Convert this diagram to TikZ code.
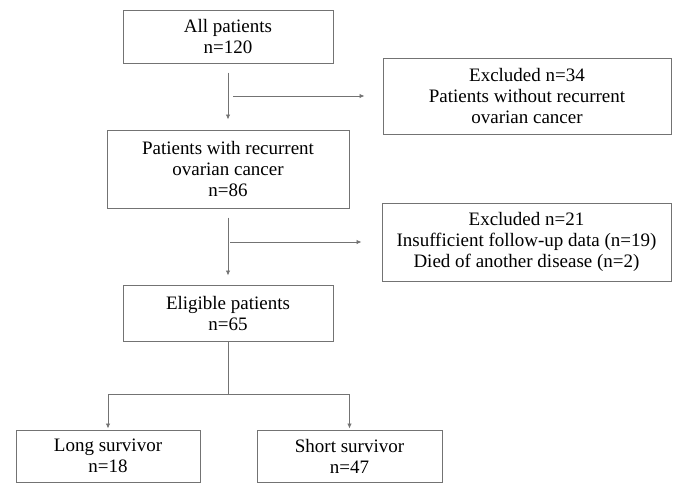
\documentclass[tikz,border=0pt]{standalone}
\usepackage{fontspec}
\setmainfont{Liberation Serif}
\usetikzlibrary{arrows.meta,calc}
\definecolor{boxgray}{gray}{0.45}
\definecolor{linegray}{gray}{0.45}
\begin{document}
\begin{tikzpicture}[x=1pt,y=-1pt,
    box/.style={draw=boxgray, line width=1pt, align=center, inner sep=0pt,
        font=\rmfamily\fontsize{19}{21}\selectfont},
    arr/.style={draw=linegray, line width=0.8pt, -{Latex[length=5pt,width=4.5pt]}},
    plain/.style={draw=linegray, line width=0.8pt}]
    \useasboundingbox (0,0) rectangle (675,483);
    \node[box, minimum width=210pt, minimum height=53pt] (all) at (228,36.5) {All patients\\n=120};
    \node[box, minimum width=288pt, minimum height=76pt] (excl1) at (527,96) {Excluded n=34\\Patients without recurrent\\ovarian cancer};
    \node[box, minimum width=242pt, minimum height=78pt] (rec) at (228,169) {Patients with recurrent\\ovarian cancer\\n=86};
    \node[box, minimum width=289pt, minimum height=78pt] (excl2) at (526.5,242) {Excluded n=21\\Insufficient follow-up data (n=19)\\Died of another disease (n=2)};
    \node[box, minimum width=210pt, minimum height=56pt] (elig) at (228,313) {Eligible patients\\n=65};
    \node[box, minimum width=184pt, minimum height=52pt] (long) at (108,456) {Long survivor\\n=18};
    \node[box, minimum width=185pt, minimum height=52pt] (short) at (349.5,456) {Short survivor\\n=47};
    \coordinate (s1) at ([xshift=5pt]excl1.west -| all.south);
    \coordinate (s2) at ([xshift=2pt]excl2.west -| rec.south);
    \coordinate (fork) at ([yshift=-53pt]elig.south);
    \draw[arr, shorten <=9pt, shorten >=10pt] (all) -- (rec);
    \draw[arr, shorten >=18pt] (s1) -- (excl1.west);
    \draw[arr, shorten <=9pt, shorten >=9pt] (rec) -- (elig);
    \draw[arr, shorten >=20pt] (s2) -- (excl2.west);
    \draw[plain] (elig.south) -- (fork);
    \draw[arr, shorten >=1pt] (fork) -| (long.north);
    \draw[arr, shorten >=1pt] (fork) -| (short.north);
\end{tikzpicture}
\end{document}
